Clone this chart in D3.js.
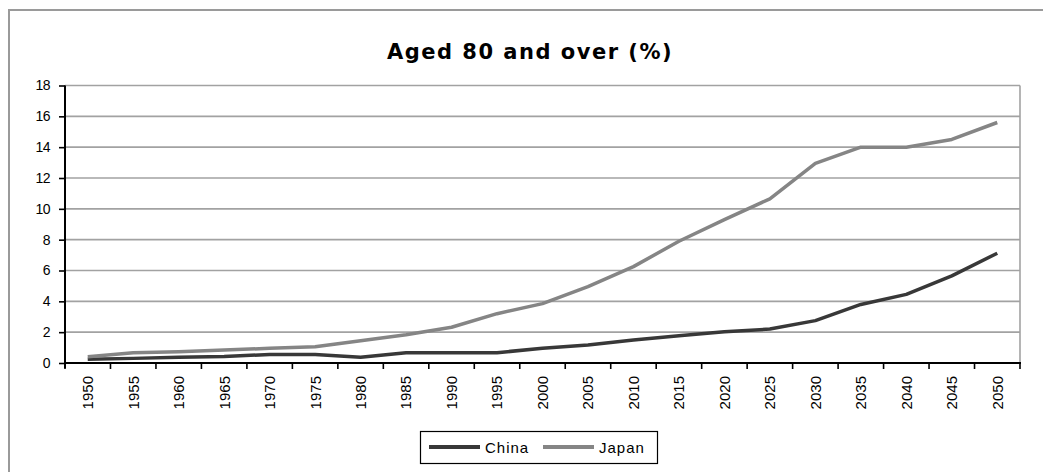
<!DOCTYPE html>
<html>
<head>
<meta charset="utf-8">
<script src="https://cdn.jsdelivr.net/npm/d3@7"></script>
<style>
	body { margin: 0; background: #fff; }
	svg { display: block; }
	.title { font-family: "DejaVu Sans", sans-serif; font-weight: bold; font-size: 21px; letter-spacing: 1.5px; }
	.tick-label { font-family: "Liberation Sans", Arial, sans-serif; fill: #000; }
	.legend-label { font-family: "Liberation Sans", Arial, sans-serif; font-size: 15px; letter-spacing: 1px; }
</style>
</head>
<body>
<div id="chart"></div>
<script>
// data
var years = [1950, 1955, 1960, 1965, 1970, 1975, 1980, 1985, 1990, 1995, 2000,
	2005, 2010, 2015, 2020, 2025, 2030, 2035, 2040, 2045, 2050];
var china = [0.25, 0.3, 0.38, 0.42, 0.55, 0.55, 0.38, 0.67, 0.67, 0.67, 0.95,
	1.17, 1.49, 1.77, 2.03, 2.2, 2.75, 3.8, 4.45, 5.65, 7.12];
var japan = [0.41, 0.67, 0.73, 0.84, 0.95, 1.06, 1.45, 1.83, 2.32, 3.2, 3.85,
	4.95, 6.25, 7.9, 9.3, 10.65, 12.95, 14.0, 14.0, 14.5, 15.6];
var yTicks = [0, 2, 4, 6, 8, 10, 12, 14, 16, 18];
var seriesNames = ["China", "Japan"];
var seriesColors = ["#383838", "#858585"];

var W = 1043, H = 472;
// plot area, in page pixels
var plot = {left: 65, right: 1020, top: 85.5, bottom: 363};

var svg = d3.select("#chart").append("svg")
	.attr("width", W)
	.attr("height", H);

// outer frame of the chart (runs off the right and bottom of the page)
svg.append("rect")
	.attr("x", 9).attr("y", 10)
	.attr("width", W + 20).attr("height", H + 20)
	.attr("fill", "#fff")
	.attr("stroke", "#9a9a9a")
	.attr("stroke-width", 2);

svg.append("text")
	.attr("class", "title")
	.attr("x", 530).attr("y", 58.5)
	.attr("text-anchor", "middle")
	.text("Aged 80 and over (%)");

// categories sit in bands, the ticks go on the band edges
var x = d3.scaleBand().domain(years).range([plot.left, plot.right]);
var y = d3.scaleLinear().domain([0, 18]).range([plot.bottom, plot.top]);

var cx = function(yr) { return x(yr) + x.bandwidth() / 2; };

// gridlines
svg.append("g").selectAll("line")
	.data(yTicks.filter(function(t) { return t > 0; }))
	.enter().append("line")
		.attr("x1", plot.left).attr("x2", plot.right)
		.attr("y1", function(d) { return y(d); })
		.attr("y2", function(d) { return y(d); })
		.attr("stroke", "#a2a2a2")
		.attr("stroke-width", 1.6);

// right border of the plot
svg.append("line")
	.attr("x1", plot.right).attr("x2", plot.right)
	.attr("y1", plot.top).attr("y2", plot.bottom)
	.attr("stroke", "#a2a2a2")
	.attr("stroke-width", 1.6);

// y axis
var yAxis = d3.axisLeft(y).tickValues(yTicks).tickSizeInner(6).tickSizeOuter(0).tickPadding(9);
var gy = svg.append("g")
	.attr("transform", "translate(" + plot.left + ",0)")
	.call(yAxis);
gy.select(".domain").attr("stroke", "#000").attr("stroke-width", 2)
	.attr("d", "M0," + plot.top + "V" + (plot.bottom + 5));
gy.selectAll(".tick line").attr("stroke", "#000").attr("stroke-width", 1.6);
gy.selectAll(".tick text")
	.attr("class", "tick-label")
	.attr("font-family", null)
	.style("font-size", "14px")
	.style("letter-spacing", "-0.5px");

// x axis: ticks on band edges, labels rotated at band centres
var edges = years.map(function(yr) { return x(yr); }).concat([plot.right]);
var gx = svg.append("g");
gx.append("line")
	.attr("x1", plot.left - 1).attr("x2", plot.right + 1)
	.attr("y1", plot.bottom).attr("y2", plot.bottom)
	.attr("stroke", "#000").attr("stroke-width", 2);
gx.selectAll(".xtick").data(edges).enter().append("line")
	.attr("class", "xtick")
	.attr("x1", function(d) { return d; }).attr("x2", function(d) { return d; })
	.attr("y1", plot.bottom).attr("y2", plot.bottom + 6)
	.attr("stroke", "#000").attr("stroke-width", 1.6);
gx.selectAll(".xlabel").data(years).enter().append("text")
	.attr("class", "tick-label")
	.style("font-size", "15px")
	.attr("text-anchor", "end")
	.attr("dy", "0.36em")
	.attr("transform", function(d) { return "translate(" + cx(d) + "," + (plot.bottom + 13) + ") rotate(-90)"; })
	.text(function(d) { return d; });

// lines
var line = d3.line()
	.x(function(d, i) { return cx(years[i]); })
	.y(function(d) { return y(d); });

[china, japan].forEach(function(vals, k) {
	svg.append("path")
		.datum(vals)
		.attr("fill", "none")
		.attr("stroke", seriesColors[k])
		.attr("stroke-width", 3.5)
		.attr("stroke-linejoin", "round")
		.attr("d", line);
});

// legend
var lg = svg.append("g");
lg.append("rect")
	.attr("x", 420.5).attr("y", 431.5)
	.attr("width", 237).attr("height", 32)
	.attr("fill", "#fff")
	.attr("stroke", "#000")
	.attr("stroke-width", 1.2);
var legendX = [429, 543];
seriesNames.forEach(function(name, k) {
	lg.append("line")
		.attr("x1", legendX[k]).attr("x2", legendX[k] + 51)
		.attr("y1", 447).attr("y2", 447)
		.attr("stroke", seriesColors[k])
		.attr("stroke-width", 4);
	lg.append("text")
		.attr("class", "legend-label")
		.attr("x", legendX[k] + 56).attr("y", 452.5)
		.text(name);
});
</script>
</body>
</html>
